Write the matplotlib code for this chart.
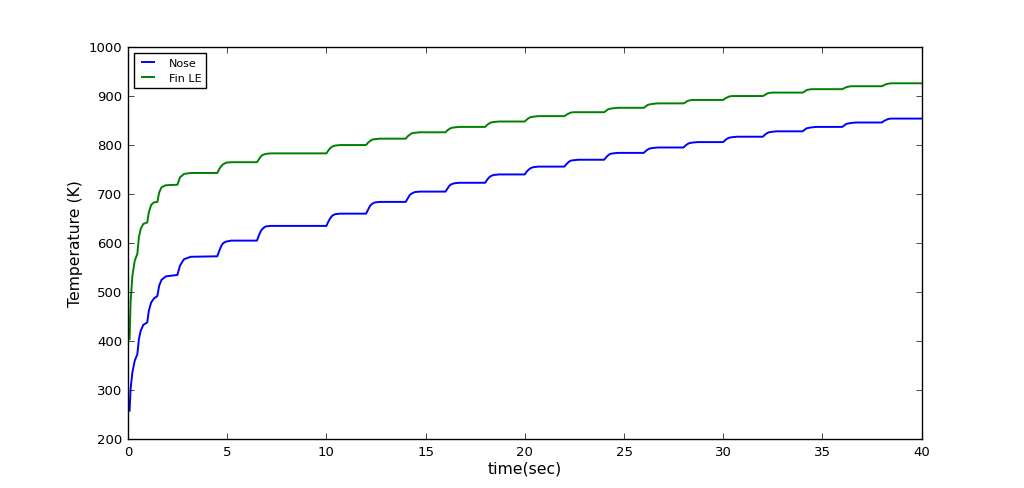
import matplotlib
matplotlib.use("Agg")
import matplotlib.pyplot as plt

plt.style.use("classic")

# time points shared by both curves (sec)
time = [0.08, 0.13, 0.22, 0.34, 0.47, 0.55, 0.64, 0.77, 0.97, 1.05, 1.17, 1.31, 1.48,
        1.57, 1.69, 1.91, 2.49, 2.62, 2.82, 3.16,
        4.5, 4.6, 4.7, 4.8, 4.95, 5.2,
        6.5, 6.6, 6.7, 6.8, 6.95, 7.2,
        10.0, 10.1, 10.2, 10.3, 10.45, 10.7,
        12.0, 12.1, 12.2, 12.3, 12.45, 12.7,
        14.0, 14.1, 14.2, 14.3, 14.45, 14.7,
        16.0, 16.1, 16.2, 16.3, 16.45, 16.7,
        18.0, 18.1, 18.2, 18.3, 18.45, 18.7,
        20.0, 20.1, 20.2, 20.3, 20.45, 20.7,
        22.0, 22.1, 22.2, 22.3, 22.45, 22.7,
        24.0, 24.1, 24.2, 24.3, 24.45, 24.7,
        26.0, 26.1, 26.2, 26.3, 26.45, 26.7,
        28.0, 28.1, 28.2, 28.3, 28.45, 28.7,
        30.0, 30.1, 30.2, 30.3, 30.45, 30.7,
        32.0, 32.1, 32.2, 32.3, 32.45, 32.7,
        34.0, 34.1, 34.2, 34.3, 34.45, 34.7,
        36.0, 36.1, 36.2, 36.3, 36.45, 36.7,
        38.0, 38.1, 38.2, 38.3, 38.45, 38.7,
        40.0]

# nose temperature (K)
nose = [258, 302, 336, 360, 373, 404, 421, 433, 438, 462, 479, 487, 492,
        513, 525, 532, 535, 554, 567, 572,
        573, 584, 594, 600, 603, 605,
        605, 616, 625, 630, 634, 635,
        635, 644, 651, 656, 659, 660,
        660, 668, 676, 680, 683, 684,
        684, 691, 698, 701, 704, 705,
        705, 711, 717, 720, 722, 723,
        723, 729, 734, 737, 739, 740,
        740, 746, 750, 753, 755, 756,
        756, 761, 765, 768, 769, 770,
        770, 775, 779, 782, 783, 784,
        784, 788, 791, 793, 794, 795,
        795, 799, 802, 804, 805, 806,
        806, 810, 813, 815, 816, 817,
        817, 821, 824, 826, 827, 828,
        828, 831, 834, 835, 836, 837,
        837, 840, 843, 844, 845, 846,
        846, 849, 851, 853, 854, 854,
        854]

# fin leading edge temperature (K)
fin_le = [404, 479, 533, 564, 578, 612, 629, 639, 642, 663, 678, 683, 684,
          703, 714, 718, 719, 734, 741, 743,
          743, 751, 757, 761, 764, 765,
          765, 771, 777, 780, 782, 783,
          783, 789, 794, 797, 799, 800,
          800, 805, 808, 811, 812, 813,
          813, 818, 821, 824, 825, 826,
          826, 830, 833, 835, 836, 837,
          837, 841, 844, 846, 847, 848,
          848, 852, 855, 857, 858, 859,
          859, 862, 864, 866, 867, 867,
          867, 870, 873, 874, 875, 876,
          876, 879, 882, 883, 884, 885,
          885, 887, 890, 891, 892, 892,
          892, 895, 897, 899, 900, 900,
          900, 902, 905, 906, 907, 907,
          907, 909, 912, 913, 914, 914,
          914, 916, 918, 919, 920, 920,
          920, 922, 924, 925, 926, 926,
          926]

fig = plt.figure(figsize=(10.24, 4.89), dpi=100, facecolor="white")
ax = fig.add_axes([0.125, 0.1, 0.775, 0.8018])

ax.plot(time, nose, color="b", lw=1.4, label="Nose")
ax.plot(time, fin_le, color="g", lw=1.4, label="Fin LE")

ax.set_xlim(0, 40)
ax.set_ylim(200, 1000)
ax.tick_params(labelsize=9.5)
ax.set_xlabel("time(sec)", fontsize=11.25, labelpad=2)
ax.set_ylabel("Temperature (K)", fontsize=11.25, labelpad=4)

ax.legend(loc="upper left", fontsize=8, handlelength=1.65, handletextpad=1.0,
          borderpad=0.45, borderaxespad=0.55, labelspacing=0.45)

fig.savefig("out.png", dpi=100, facecolor="white")
